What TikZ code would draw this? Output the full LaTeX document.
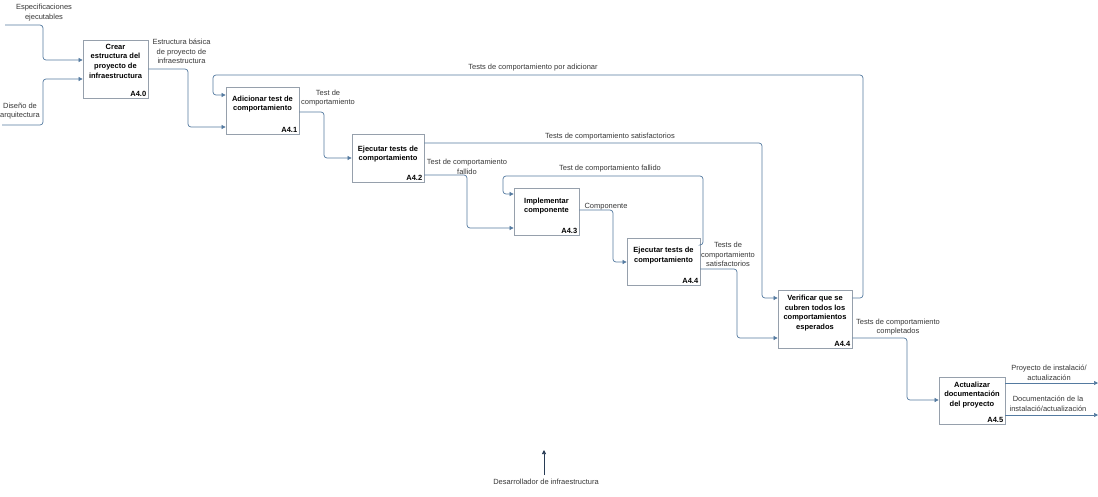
\documentclass[tikz,border=0pt]{standalone}
\usepackage{fontspec}
\setmainfont{Liberation Sans}
\usepackage{tikz}
\usepackage{xcolor}
\usetikzlibrary{positioning, arrows.meta}
\definecolor{idefline}{RGB}{84, 122, 160}
\definecolor{idefbox}{RGB}{150, 160, 172}
\definecolor{ideftext}{RGB}{55, 55, 55}
\definecolor{idefmech}{RGB}{40, 60, 85}

\begin{document}
\begin{tikzpicture}[x=1pt, y=-1pt, every node/.style={align=center, font=\fontsize{7.5}{9.7}\selectfont},
    proc/.style={draw=idefbox, line width=0.8pt, fill=white, inner sep=0pt},
    ptxt/.style={font=\fontsize{7.5}{9.7}\selectfont\bfseries, inner sep=0pt},
    pid/.style={font=\fontsize{7.5}{9}\selectfont\bfseries, anchor=south east, inner sep=2pt},
    lbl/.style={text=ideftext, inner sep=0pt},
    flow/.style={draw=idefline, line width=0.7pt, rounded corners=3pt, -{Triangle[length=4pt, width=4pt]}}]
    \useasboundingbox (0,0) rectangle (1098,496);

    \node[proc, minimum width=65pt, minimum height=58pt] (a40) at (115.5,69.5) {};
    \node[ptxt] (a40t) at ([yshift=8.5pt]a40.center) {Crear\\estructura del\\proyecto de\\infraestructura};
    \node[pid] (a40id) at (a40.south east) {A4.0};

    \node[proc, minimum width=73pt, minimum height=47pt] (a41) at (262.5,110.5) {};
    \node[ptxt] (a41t) at ([yshift=6.5pt]a41.center) {Adicionar test de\\comportamiento};
    \node[pid] (a41id) at (a41.south east) {A4.1};

    \node[proc, minimum width=72pt, minimum height=48pt] (a42) at (388,158.5) {};
    \node[ptxt] (a42t) at ([yshift=4.5pt]a42.center) {Ejecutar tests de\\comportamiento};
    \node[pid] (a42id) at (a42.south east) {A4.2};

    \node[proc, minimum width=65pt, minimum height=47pt] (a43) at (546.5,211.5) {};
    \node[ptxt] (a43t) at ([yshift=5.5pt]a43.center) {Implementar\\componente};
    \node[pid] (a43id) at (a43.south east) {A4.3};

    \node[proc, minimum width=73pt, minimum height=47pt] (a44e) at (663.5,261.5) {};
    \node[ptxt] (a44et) at ([yshift=6pt]a44e.center) {Ejecutar tests de\\comportamiento};
    \node[pid] (a44eid) at (a44e.south east) {A4.4};

    \node[proc, minimum width=74pt, minimum height=58pt] (a44v) at (815,319) {};
    \node[ptxt] (a44vt) at ([yshift=6pt]a44v.center) {Verificar que se\\cubren todos los\\comportamientos\\esperados};
    \node[pid] (a44vid) at (a44v.south east) {A4.4};

    \node[proc, minimum width=66pt, minimum height=47pt] (a45) at (972,400.5) {};
    \node[ptxt] (a45t) at ([yshift=5.5pt]a45.center) {Actualizar\\documentaci\'on\\del proyecto};
    \node[pid] (a45id) at (a45.south east) {A4.5};

    \coordinate (specin) at (5,25);
    \coordinate (disin) at (2,125);
    \coordinate (proyout) at (1098,383);
    \coordinate (docout) at (1098,415);
    \coordinate (mechtip) at (544,450);

    \node[lbl] (specl) at (44,12.5) {Especificaciones\\ejecutables};
    \node[lbl] (disl) at (20,111) {Dise\~no de\\arquitectura};
    \node[lbl] (estl) at (181.5,51.5) {Estructura b\'asica\\de proyecto de\\infraestructura};
    \node[lbl] (adicl) at (533,68) {Tests de comportamiento por adicionar};
    \node[lbl] (testl) at (328,98) {Test de\\comportamiento};
    \node[lbl] (satl) at (610,137) {Tests de comportamiento satisfactorios};
    \node[lbl] (fall) at (467,166.5) {Test de comportamiento\\fallido};
    \node[lbl] (fal2l) at (610,169) {Test de comportamiento fallido};
    \node[lbl] (compl) at (606,207) {Componente};
    \node[lbl] (sat2l) at (728,254.5) {Tests de\\comportamiento\\satisfactorios};
    \node[lbl] (cmpll) at (898,327) {Tests de comportamiento\\completados};
    \node[lbl] (proyl) at (1049,373) {Proyecto de instalaci\'o/\\actualizaci\'on};
    \node[lbl] (docl) at (1048,403.5) {Documentaci\'on de la\\instalaci\'o/actualizaci\'on};
    \node[lbl] (mechl) at (546,482) {Desarrollador de infraestructura};

    \draw[flow] (specin) -| (43,60) -- ([yshift=9.5pt]a40.west);
    \draw[flow] (disin) -| (43,79) -- ([yshift=-9.5pt]a40.west);
    \draw[flow] ([yshift=0.5pt]a40.east) -| (188,127) -- ([yshift=-16.5pt]a41.west);
    \draw[flow] ([yshift=21pt]a44v.east) -| (863,75) -| (213,95) -- ([yshift=15.5pt]a41.west);
    \draw[flow] ([yshift=-1.5pt]a41.east) -| (324,158) -- ([yshift=0.5pt]a42.west);
    \draw[flow] ([yshift=15.5pt]a42.east) -| (762,298) -- ([yshift=21pt]a44v.west);
    \draw[flow] ([yshift=-16.5pt]a42.east) -| (467,228) -- ([yshift=-16.5pt]a43.west);
    \draw[flow] ([yshift=16.5pt]a44e.east) -| (703,176) -| (503,194) -- ([yshift=17.5pt]a43.west);
    \draw[flow] ([yshift=1.5pt]a43.east) -| (613,262) -- ([yshift=-0.5pt]a44e.west);
    \draw[flow] ([yshift=-7.5pt]a44e.east) -| (737,338) -- ([yshift=-19pt]a44v.west);
    \draw[flow] ([yshift=-19pt]a44v.east) -| (907,400) -- ([yshift=0.5pt]a45.west);
    \draw[flow] ([yshift=17.5pt]a45.east) -- (proyout);
    \draw[flow] ([yshift=-14.5pt]a45.east) -- (docout);
    \draw[flow, draw=idefmech] ([yshift=4pt]mechl.north -| mechtip) -- (mechtip);
  \end{tikzpicture}
\end{document}
